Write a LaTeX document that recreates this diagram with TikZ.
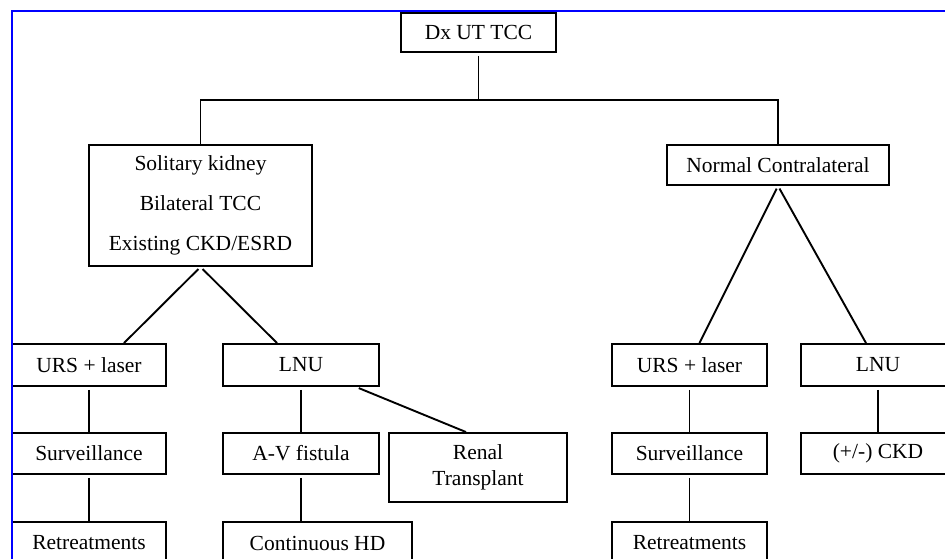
\documentclass[tikz,border=0pt]{standalone}
\usepackage{fontspec}
\setmainfont{Liberation Serif}
\usetikzlibrary{arrows,positioning,calc}
\tikzset{
  box/.style={draw=black, line width=1.9pt, fill=white, inner sep=0pt, align=center,
    font=\fontsize{21.5}{26}\selectfont},
  link/.style={line width=1.9pt, shorten <=3pt},
  frame/.style={draw=blue, line width=2.6pt}
}

\begin{document}
\begin{tikzpicture}[x=1pt,y=-1pt]
  \useasboundingbox (0,0) rectangle (945,559);
  \clip (0,0) rectangle (945,559);
  \fill[white] (0,0) rectangle (945,559);

  \node (Dx) [box, minimum width=155pt, minimum height=39pt] at (478.5,32.5) {Dx UT TCC};
  \node (Sol) [box, minimum width=223pt, minimum height=121pt, font=\fontsize{21.5}{40}\selectfont] at (200.5,205.5) {Solitary kidney\\Bilateral TCC\\Existing CKD/ESRD};
  \node (Norm) [box, minimum width=222pt, minimum height=40pt] at (778,165) {Normal Contralateral};

  % left branch
  \node (URSa) [box, minimum width=154pt, minimum height=42pt] at (89,365) {URS + laser};
  \node (LNUa) [box, minimum width=156pt, minimum height=42pt] at (301,365) {LNU};
  \node (SURa) [box, minimum width=154pt, minimum height=41pt] at (89,453.5) {Surveillance};
  \node (AVF) [box, minimum width=156pt, minimum height=41pt] at (301,453.5) {A-V fistula};
  \node (REN) [box, minimum width=178pt, minimum height=69pt] at (478,467.5) {Renal\\Transplant};
  \node (RETa) [box, minimum width=154pt, minimum height=42pt] at (89,543) {Retreatments};
  \node (HD) [box, minimum width=189pt, minimum height=42pt] at (317.5,543) {Continuous HD};

  % right branch
  \node (URSb) [box, minimum width=155pt, minimum height=42pt] at (689.5,365) {URS + laser};
  \node (LNUb) [box, minimum width=154pt, minimum height=42pt] at (878,365) {LNU};
  \node (SURb) [box, minimum width=155pt, minimum height=41pt] at (689.5,453.5) {Surveillance};
  \node (CKD) [box, minimum width=154pt, minimum height=41pt] at (878,453.5) {(+/-) CKD};
  \node (RETb) [box, minimum width=155pt, minimum height=42pt] at (689.5,543) {Retreatments};

  \draw [link] (Dx.south) -- ++(0,47) coordinate (fork);
  \draw [line width=1.9pt] (Sol.north) |- (fork) -| (Norm.north);

  \path [-] [link]
  (Sol.south) edge ([xshift=35pt]URSa.north)
  (Sol.south) edge ([xshift=-24pt]LNUa.north)
  (URSa.south) edge (SURa.north)
  (SURa.south) edge (RETa.north)
  (LNUa.south) edge (AVF.north)
  ([xshift=55pt]LNUa.south) edge ([xshift=-12pt]REN.north)
  (AVF.south) edge (AVF.south |- HD.north)
  (Norm.south) edge ([xshift=10pt]URSb.north)
  (Norm.south) edge ([xshift=-12pt]LNUb.north)
  (URSb.south) edge (SURb.north)
  (SURb.south) edge (RETb.north)
  (LNUb.south) edge (CKD.north);

  \draw [frame] (12,11) rectangle (1000,600);
\end{tikzpicture}
\end{document}
